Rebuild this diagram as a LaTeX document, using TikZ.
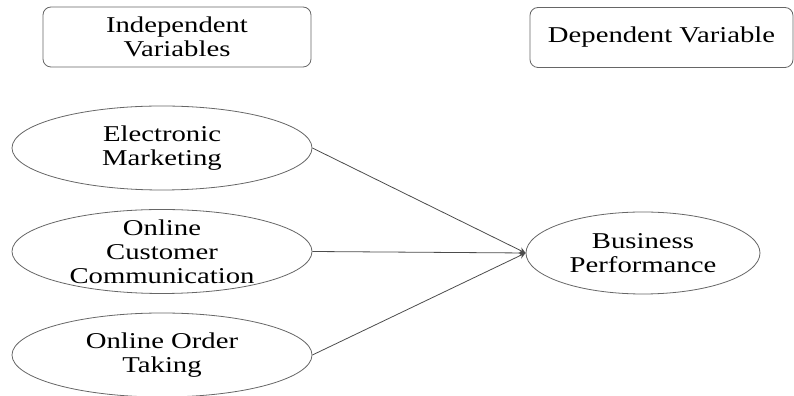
\documentclass[tikz,border=0pt]{standalone}
\usepackage{fontspec}
\setmainfont[FakeStretch=1.27]{Liberation Serif}
\usetikzlibrary{positioning,shapes,arrows}

\begin{document}
\begin{tikzpicture}[x=0.5pt, y=0.5pt, node distance=51.75pt, auto,
    font=\fontsize{11.3}{12}\selectfont, every label/.style={align=center, text=black}]
    \useasboundingbox (0,0) rectangle (794,396);
    \node [rectangle, rounded corners=4pt, draw=black!60, minimum width=134pt, minimum height=30pt, align=center] (indep) at (177,359) {Independent\\Variables};
    \node [rectangle, rounded corners=4pt, draw=black!60, minimum width=131.5pt, minimum height=30pt, align=center] (dep) at (661.5,358.5) {Dependent Variable};
    \node [ellipse, draw=black!60, inner sep=0pt, minimum width=150pt, minimum height=42pt, label={center:{Electronic\\Marketing}}] (em) at (162,248) {};
    \node [ellipse, draw=black!60, inner sep=0pt, minimum width=150pt, minimum height=42pt, below of=em, label={center:{Online\\Customer\\Communication}}] (occ) {};
    \node [ellipse, draw=black!60, inner sep=0pt, minimum width=150pt, minimum height=42pt, below of=occ, label={center:{Online Order\\Taking}}] (oot) {};
    \node [ellipse, draw=black!60, inner sep=0pt, minimum width=117pt, minimum height=41pt, label={center:{Business\\Performance}}] (bp) at (643,143) {};

    \draw [->, >=stealth, draw=black!70] (em.east) -- (bp.west);
    \draw [->, >=stealth, draw=black!70] (occ.east) -- (bp.west);
    \draw [->, >=stealth, draw=black!70] (oot.east) -- (bp.west);
\end{tikzpicture}
\end{document}
